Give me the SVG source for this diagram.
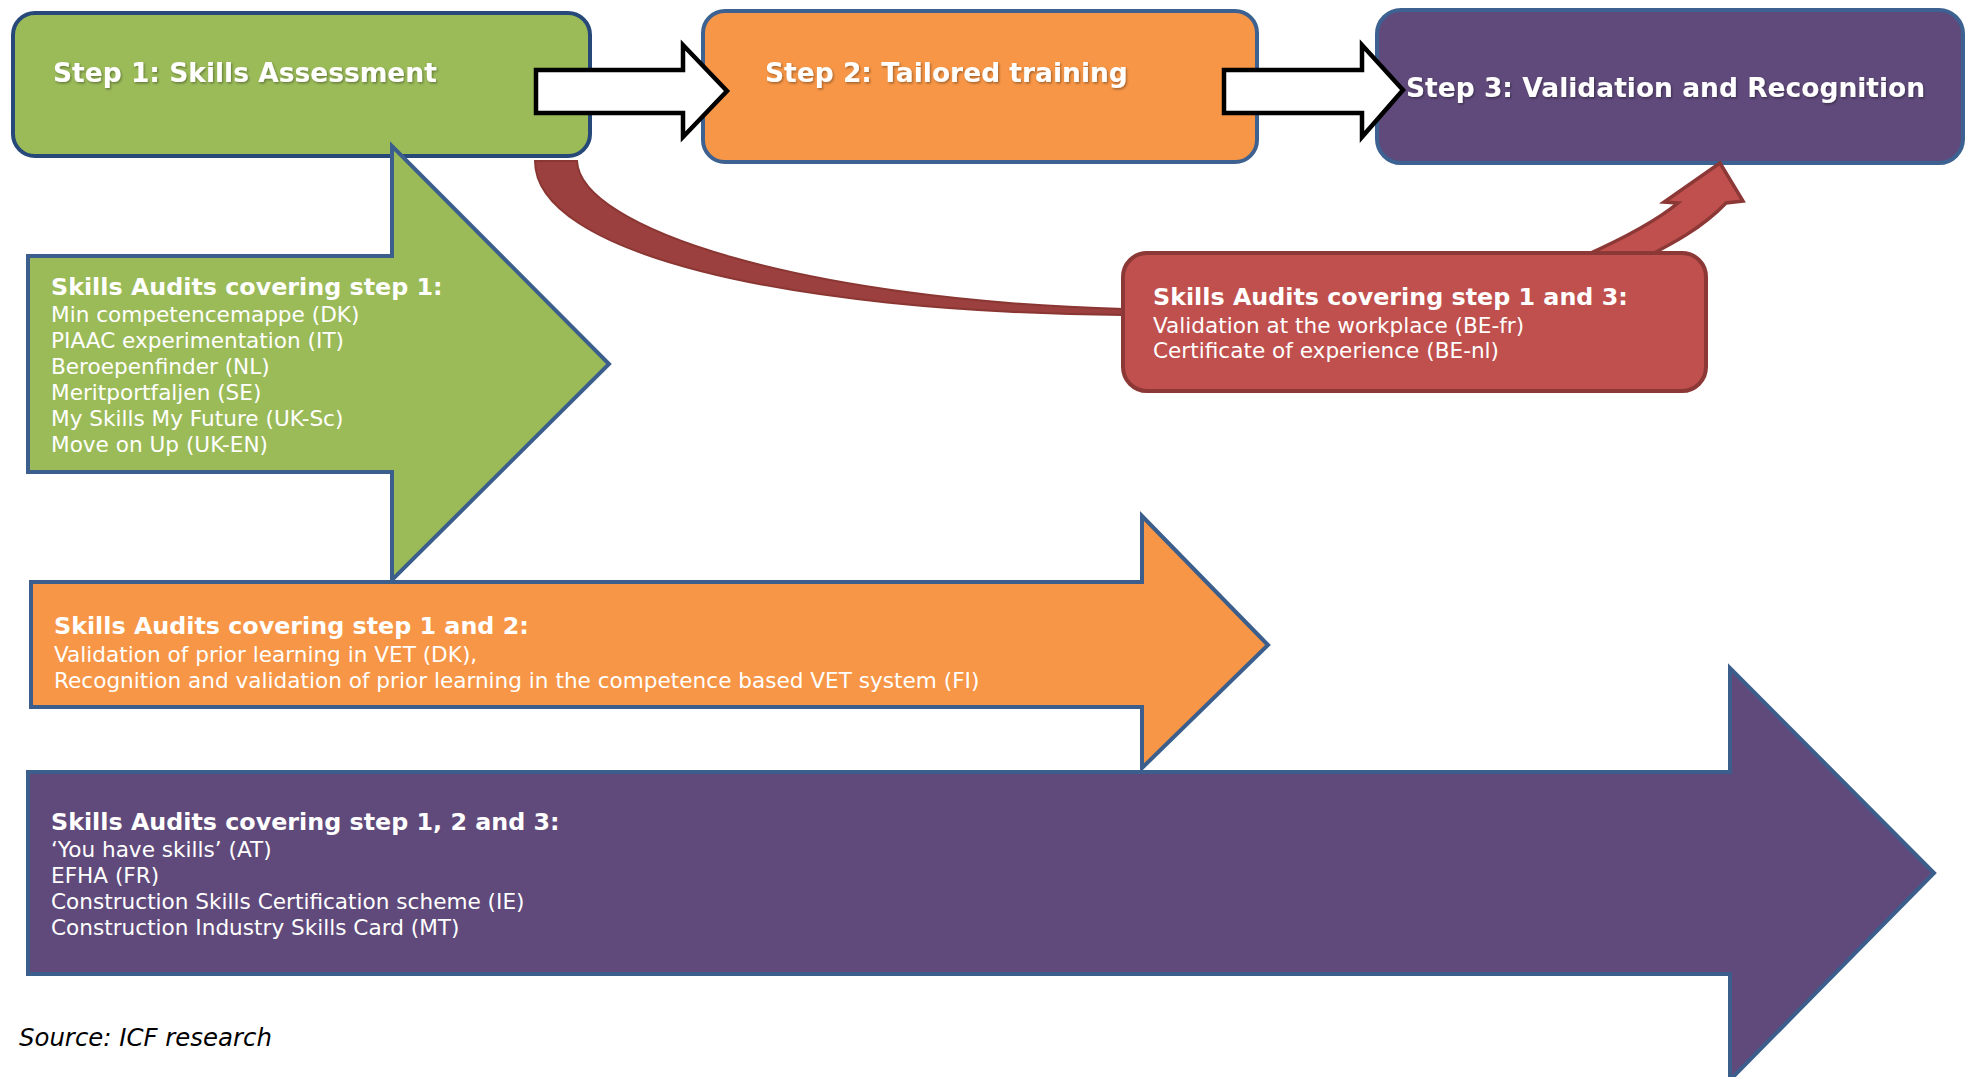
<svg xmlns="http://www.w3.org/2000/svg" width="1968" height="1077" viewBox="0 0 1968 1077">
<defs>
<filter id="sh" x="-5%" y="-30%" width="110%" height="160%">
<feDropShadow dx="1.2" dy="1.5" stdDeviation="0.8" flood-color="#000" flood-opacity="0.35"/>
</filter>
<style>
.title{font-family:"DejaVu Sans","Verdana",sans-serif;font-weight:bold;font-size:26.5px;fill:#fff}
.hdr{font-family:"DejaVu Sans","Verdana",sans-serif;font-weight:bold;font-size:23.8px;fill:#fff}
.body{font-family:"DejaVu Sans","Verdana",sans-serif;font-size:21.6px;fill:#fff}
.src{font-family:"DejaVu Sans","Verdana",sans-serif;font-style:italic;font-size:24.4px;fill:#000}
.stepbox{stroke-width:4}
.big{stroke:#3B5E8C;stroke-width:4;stroke-linejoin:miter}
.white{fill:#fff;stroke:#000;stroke-width:4.5;stroke-linejoin:miter}
</style>
</defs>
<rect width="1968" height="1077" fill="#fff"/>

<g id="step1">
<rect x="13" y="13" width="577" height="143" rx="22" fill="#9BBB59" stroke="#26497A" class="stepbox"/>
<text x="53" y="82" class="title" filter="url(#sh)">Step 1: Skills Assessment</text>
</g>
<g id="step2">
<rect x="703" y="11" width="554" height="151" rx="22" fill="#F79646" stroke="#3D6190" class="stepbox"/>
<text x="765" y="82" class="title" filter="url(#sh)">Step 2: Tailored training</text>
</g>
<g id="step3">
<rect x="1377" y="10" width="586" height="153" rx="24" fill="#604A7B" stroke="#3D6190" class="stepbox"/>
<text x="1406" y="97" class="title" filter="url(#sh)">Step 3: Validation and Recognition</text>
</g>

<g id="connectors">
<polygon class="white" points="536,70 683,70 683,45 727,91 683,137 683,113 536,113"/>
<polygon class="white" points="1224,70 1362,70 1362,45 1403,90 1362,137 1362,113 1224,113"/>
<path d="M 535,161 L 577,161 C 580,228 800,300 1124,309 L 1124,315 C 780,312 535,252 535,161 Z" fill="#9B403E" stroke="#8A3633" stroke-width="2"/>
<path d="M 1584,256 C 1620,240 1655,222 1678,203 L 1664,202 L 1720,163 L 1743,201 L 1726,203 C 1702,228 1672,244 1644,258 Z" fill="#C0504D" stroke="#8C3836" stroke-width="3.5" stroke-linejoin="miter"/>
</g>

<g id="audit-step1">
<polygon class="big" fill="#9BBB59" points="28,256 392,256 392,146 609,364 392,580 392,472 28,472"/>
<text x="51" y="295" class="hdr">Skills Audits covering step 1:</text>
<text x="51" y="322" class="body">Min competencemappe (DK)</text>
<text x="51" y="348" class="body">PIAAC experimentation (IT)</text>
<text x="51" y="374" class="body">Beroepenfinder (NL)</text>
<text x="51" y="400" class="body">Meritportfaljen (SE)</text>
<text x="51" y="426" class="body">My Skills My Future (UK-Sc)</text>
<text x="51" y="452" class="body">Move on Up (UK-EN)</text>
</g>

<g id="audit-step12">
<polygon class="big" fill="#F79646" points="31,582 1142,582 1142,516 1268,645 1142,768 1142,707 31,707"/>
<text x="54" y="634" class="hdr">Skills Audits covering step 1 and 2:</text>
<text x="54" y="662" class="body">Validation of prior learning in VET (DK),</text>
<text x="54" y="688" class="body">Recognition and validation of prior learning in the competence based VET system (FI)</text>
</g>

<g id="audit-step123">
<polygon class="big" fill="#604A7B" points="28,772 1730,772 1730,668 1934,873 1730,1080 1730,974 28,974"/>
<text x="51" y="830" class="hdr">Skills Audits covering step 1, 2 and 3:</text>
<text x="51" y="857" class="body">‘You have skills’ (AT)</text>
<text x="51" y="883" class="body">EFHA (FR)</text>
<text x="51" y="909" class="body">Construction Skills Certification scheme (IE)</text>
<text x="51" y="935" class="body">Construction Industry Skills Card (MT)</text>
</g>

<g id="audit-step13">
<rect x="1123" y="253" width="583" height="138" rx="24" fill="#C0504D" stroke="#8C3836" stroke-width="4"/>
<text x="1153" y="305" class="hdr">Skills Audits covering step 1 and 3:</text>
<text x="1153" y="333" class="body">Validation at the workplace (BE-fr)</text>
<text x="1153" y="358" class="body">Certificate of experience (BE-nl)</text>
</g>

<g id="source">
<text x="19" y="1046" class="src">Source: ICF research</text>
</g>
</svg>
